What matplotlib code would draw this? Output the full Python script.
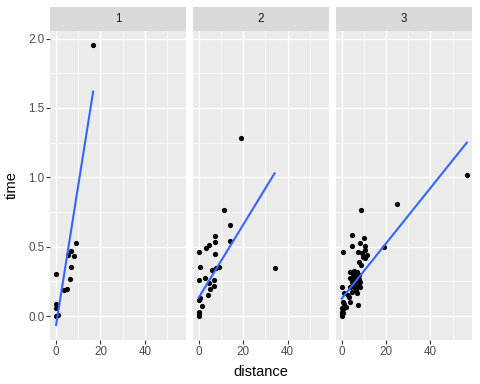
import numpy as np
import matplotlib
matplotlib.use('Agg')
import matplotlib.pyplot as plt

# Faceted scatter of time vs distance, with a linear fit per panel
panels = ['1', '2', '3']

dist_1 = [16.7, 9.1, 6.6, 5.2, 8.2, 6.9, 6.4, 5.1, 3.6, 0.15, 0.15, 0.0, 0.0, 0.9]
time_1 = [1.954, 0.524, 0.466, 0.437, 0.43, 0.351, 0.264, 0.195, 0.19, 0.30, 0.087, 0.055, 0.0, 0.007]

dist_2 = [19.1, 34.1, 11.4, 14.1, 14.1, 7.3, 7.3, 4.5, 3.2, 0.0, 7.3, 0.5, 5.9, 7.7,
          9.1, 0.0, 2.7, 6.8, 4.5, 5.0, 6.8, 4.1, 1.4, 0.0, 0.5, 0.0, 0.0, 0.0]
time_2 = [1.281, 0.344, 0.762, 0.654, 0.538, 0.575, 0.531, 0.51, 0.488, 0.459, 0.445, 0.351, 0.329, 0.344,
          0.351, 0.257, 0.272, 0.257, 0.236, 0.192, 0.214, 0.149, 0.07, 0.113, 0.127, 0.026, 0.012, 0.0]

dist_3 = [56.4, 25.0, 8.6, 19.1, 4.5, 4.5, 10.0, 8.2, 10.5, 10.5, 7.3, 9.1, 11.4, 10.5,
          0.5, 7.7, 8.6, 9.5, 5.0, 6.4,
          3.9, 5.5, 6.8, 7.7, 3.9, 5.5, 7.7, 4.5, 5.9, 8.2, 7.3, 3.6, 5.5, 8.2,
          6.4, 4.5, 6.8, 2.7, 3.2, 1.2, 2.0, 0.8,
          0.0, 7.3, 1.1, 3.6, 0.5, 0.0, 0.0, 0.0, 0.0, 0.5]
time_3 = [1.014, 0.805, 0.762, 0.495, 0.582, 0.502, 0.56, 0.524, 0.502, 0.476, 0.459, 0.452, 0.437, 0.416,
          0.459, 0.387, 0.365, 0.428, 0.303, 0.284,
          0.315, 0.327, 0.315, 0.296, 0.272, 0.272, 0.264, 0.243, 0.243, 0.243, 0.219, 0.212, 0.212, 0.207,
          0.188, 0.175, 0.168, 0.151, 0.135, 0.087, 0.067, 0.048,
          0.207, 0.077, 0.163, 0.099, 0.099, 0.055, 0.031, 0.014, 0.0, 0.024]

# linear fit per panel
fit_intercept = [-0.065, 0.135, 0.125]
fit_slope = [0.1008, 0.0262, 0.01995]

data = [(dist_1, time_1), (dist_2, time_2), (dist_3, time_3)]

plt.rcParams['font.family'] = ['Liberation Sans', 'DejaVu Sans']

W, H = 480, 384
fig = plt.figure(figsize=(W / 100, H / 100), dpi=100)

lefts = [50, 192.8, 335.6]
pw = 136.3
top, bottom = 31, 340

for i, (name, (xs, ys)) in enumerate(zip(panels, data)):
    ax = fig.add_axes([lefts[i] / W, (H - bottom) / H, pw / W, (bottom - top) / H])
    ax.set_facecolor('#EBEBEB')
    for s in ax.spines.values():
        s.set_visible(False)
    ax.set_xlim(-2.75, 58.7)
    ax.set_ylim(-0.173, 2.055)
    ax.set_xticks([0, 20, 40])
    ax.set_xticks([10, 30, 50], minor=True)
    ax.set_yticks([0, 0.5, 1.0, 1.5, 2.0])
    ax.set_yticks([0.25, 0.75, 1.25, 1.75], minor=True)
    ax.grid(True, which='major', color='white', linewidth=1.0)
    ax.grid(True, which='minor', color='white', linewidth=0.5)
    ax.set_axisbelow(True)
    ax.tick_params(which='minor', length=0)
    ax.tick_params(which='major', length=2.7, width=0.8, color='#333333',
                   labelsize=8.4, labelcolor='#4D4D4D', pad=1.5)
    if i == 0:
        ax.set_yticklabels(['0.0', '0.5', '1.0', '1.5', '2.0'])
    else:
        ax.tick_params(axis='y', length=0, labelleft=False)

    xs = np.array(xs)
    ys = np.array(ys)
    ax.scatter(xs, ys, s=14, color='black', linewidths=0, zorder=3)
    xl = np.array([xs.min(), xs.max()])
    ax.plot(xl, fit_intercept[i] + fit_slope[i] * xl, color='#3366FF',
            linewidth=1.5, zorder=4)

    # facet strip
    sax = fig.add_axes([lefts[i] / W, (H - top) / H, pw / W, 24 / H])
    sax.set_facecolor('#D9D9D9')
    sax.set_xticks([])
    sax.set_yticks([])
    for s in sax.spines.values():
        s.set_visible(False)
    sax.text(0.5, 0.5, name, ha='center', va='center', fontsize=8.4,
             color='#1A1A1A', transform=sax.transAxes)

fig.text(261 / W, 1 - 372 / H, 'distance', ha='center', va='center', fontsize=10.5)
fig.text(12 / W, 1 - 185 / H, 'time', ha='center', va='center', rotation=90, fontsize=10.5)

fig.savefig('out.png', dpi=100)
